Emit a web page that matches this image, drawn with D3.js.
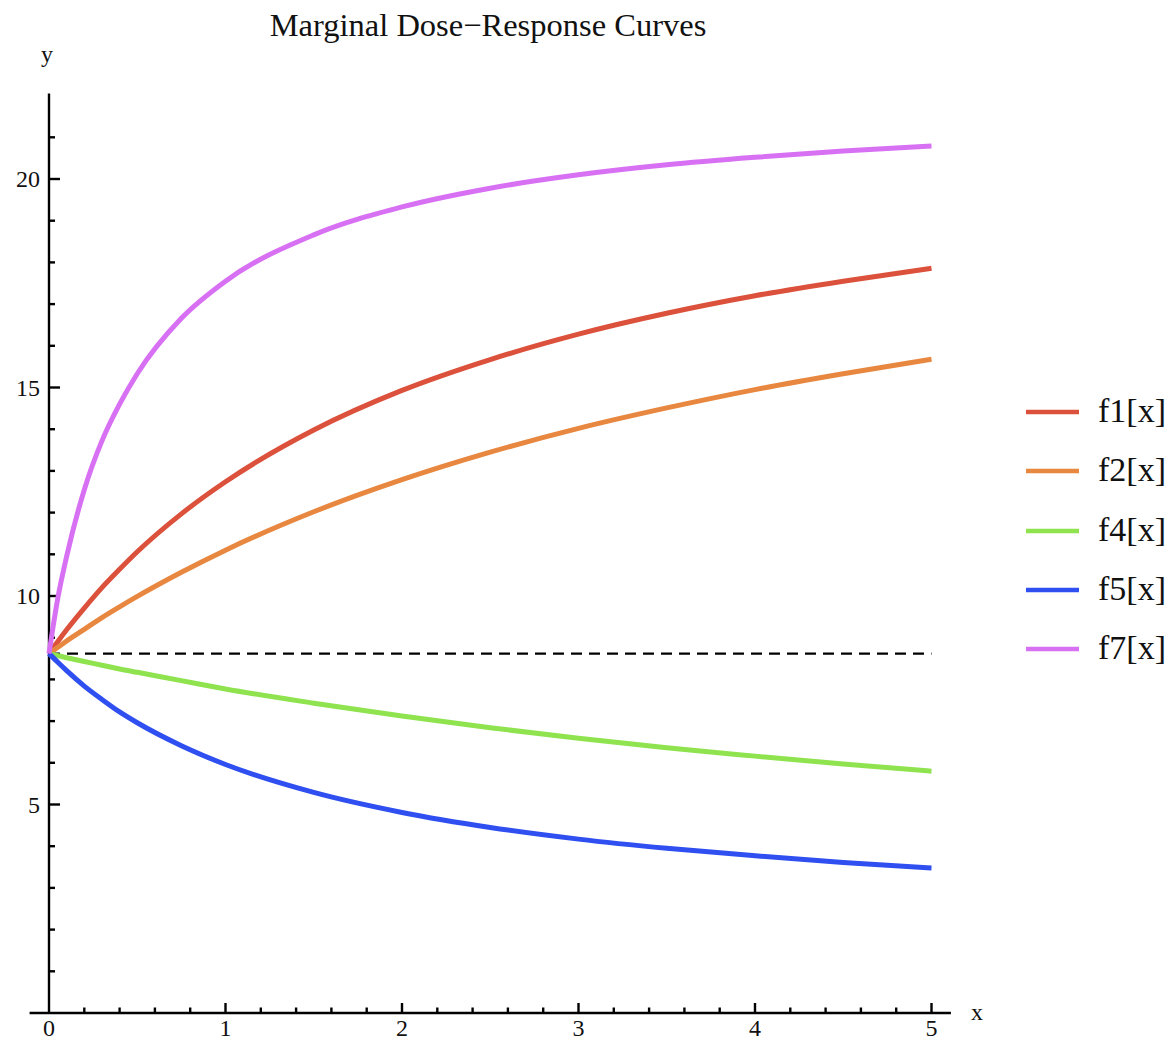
<!DOCTYPE html>
<html>
<head>
<meta charset="utf-8">
<script src="https://cdn.jsdelivr.net/npm/d3@7"></script>
<style>
  html, body { margin: 0; padding: 0; background: #fff; }
  svg text { font-family: "Liberation Serif", "DejaVu Serif", serif; fill: #111; }
</style>
</head>
<body>
<svg id="chart" width="1172" height="1042"></svg>
<script>
// Dose grid shared by every curve
const doses = [0, 0.05, 0.1, 0.2, 0.3, 0.4, 0.5, 0.75, 1, 1.5, 2, 2.5, 3, 3.5, 4, 4.5, 5];

// Marginal responses per model
const f1 = [8.62, 8.91, 9.19, 9.71, 10.20, 10.64, 11.06, 11.97, 12.74, 13.98, 14.93, 15.67, 16.28, 16.78, 17.20, 17.55, 17.86];
const f2 = [8.62, 8.77, 8.92, 9.20, 9.48, 9.74, 9.99, 10.57, 11.10, 12.02, 12.79, 13.45, 14.02, 14.51, 14.95, 15.33, 15.68];
const f4 = [8.62, 8.57, 8.52, 8.43, 8.34, 8.25, 8.17, 7.97, 7.77, 7.43, 7.12, 6.84, 6.59, 6.36, 6.16, 5.97, 5.80];
const f5 = [8.62, 8.41, 8.21, 7.84, 7.52, 7.22, 6.96, 6.41, 5.96, 5.29, 4.81, 4.45, 4.17, 3.95, 3.77, 3.61, 3.48];
const f7 = [8.62, 9.95, 10.95, 12.55, 13.72, 14.60, 15.33, 16.66, 17.55, 18.66, 19.33, 19.78, 20.10, 20.34, 20.52, 20.67, 20.79];

// Baseline response (no dose)
const baseline = 8.62;

const seriesNames = ["f1[x]", "f2[x]", "f4[x]", "f5[x]", "f7[x]"];
const seriesValues = [f1, f2, f4, f5, f7];
const seriesColors = ["#dc513b", "#e8873f", "#8ee34e", "#2f4ff0", "#d870f4"];

const xMajorTicks = [0, 1, 2, 3, 4, 5];
const yMajorTicks = [5, 10, 15, 20];

const title = "Marginal Dose\u2212Response Curves";

const svg = d3.select("#chart");

const x = d3.scaleLinear().domain([0, 5]).range([49, 931.5]);
const y = d3.scaleLinear().domain([0, 22]).range([1013, 95.6]);

const xAxisDomain = [-0.11, 5.11];
const yAxisTop = 22.05;

// Axes crossing at the origin
const axisG = svg.append("g").attr("stroke", "#000").attr("stroke-width", 2.4);

axisG.append("line")
  .attr("x1", x(xAxisDomain[0])).attr("x2", x(xAxisDomain[1]))
  .attr("y1", y(0)).attr("y2", y(0));
axisG.append("line")
  .attr("x1", x(0)).attr("x2", x(0))
  .attr("y1", y(0)).attr("y2", y(yAxisTop));

// x ticks: majors every 1, minors every 0.2, pointing inward
const xMinor = d3.range(0, 5.001, 0.2).filter(v => Math.abs(v - Math.round(v)) > 1e-6);
axisG.selectAll(".xmaj").data(xMajorTicks.filter(v => v !== 0)).join("line")
  .attr("x1", d => x(d)).attr("x2", d => x(d))
  .attr("y1", y(0)).attr("y2", y(0) - 10);
axisG.selectAll(".xmin").data(xMinor).join("line")
  .attr("class", "xmin")
  .attr("x1", d => x(d)).attr("x2", d => x(d))
  .attr("y1", y(0)).attr("y2", y(0) - 5.5);

// y ticks: majors every 5, minors every 1
const yMinor = d3.range(1, 22, 1).filter(v => v % 5 !== 0);
axisG.selectAll(".ymaj").data(yMajorTicks).join("line")
  .attr("class", "ymaj")
  .attr("x1", x(0)).attr("x2", x(0) + 11)
  .attr("y1", d => y(d)).attr("y2", d => y(d));
axisG.selectAll(".ymin").data(yMinor).join("line")
  .attr("class", "ymin")
  .attr("x1", x(0)).attr("x2", x(0) + 6)
  .attr("y1", d => y(d)).attr("y2", d => y(d));

const labelSize = 24;

svg.append("g").selectAll("text").data(xMajorTicks).join("text")
  .attr("x", d => x(d)).attr("y", y(0) + 23)
  .attr("text-anchor", "middle")
  .attr("font-size", labelSize)
  .text(d => d);

svg.append("g").selectAll("text").data(yMajorTicks).join("text")
  .attr("x", x(0) - 9).attr("y", d => y(d) + 8)
  .attr("text-anchor", "end")
  .attr("font-size", labelSize)
  .text(d => d);

svg.append("text").attr("x", 977).attr("y", 1020)
  .attr("text-anchor", "middle").attr("font-size", labelSize).text("x");
svg.append("text").attr("x", 47).attr("y", 62)
  .attr("text-anchor", "middle").attr("font-size", labelSize).text("y");

svg.append("text").attr("x", 488).attr("y", 36)
  .attr("text-anchor", "middle").attr("font-size", 32.5).text(title);

// Baseline reference
svg.append("line")
  .attr("x1", x(0)).attr("x2", x(5))
  .attr("y1", y(baseline)).attr("y2", y(baseline))
  .attr("stroke", "#000").attr("stroke-width", 2.2)
  .attr("stroke-dasharray", "11,7");

// Response curves
const line = d3.line()
  .x((d, i) => x(doses[i]))
  .y(d => y(d))
  .curve(d3.curveMonotoneX);

svg.append("g").selectAll("path").data(seriesValues).join("path")
  .attr("d", d => line(d))
  .attr("fill", "none")
  .attr("stroke", (d, i) => seriesColors[i])
  .attr("stroke-width", 5)
  .attr("stroke-linecap", "butt");

// Legend
const legendRows = [412, 471, 531, 590, 649];
const legend = svg.append("g").selectAll("g").data(seriesNames).join("g")
  .attr("transform", (d, i) => `translate(0,${legendRows[i]})`);
legend.append("line")
  .attr("x1", 1026).attr("x2", 1079)
  .attr("stroke", (d, i) => seriesColors[i])
  .attr("stroke-width", 4.5);
legend.append("text")
  .attr("x", 1098).attr("y", 10)
  .attr("font-size", 34)
  .text(d => d);
</script>
</body>
</html>
